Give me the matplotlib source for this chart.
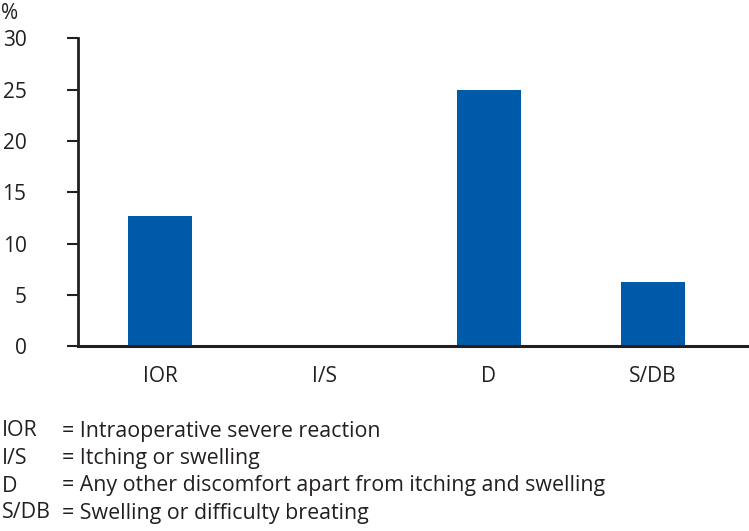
import numpy as np
import matplotlib.pyplot as plt

plt.rcParams['font.family'] = ['Open Sans', 'DejaVu Sans']

categories = ["IOR", "I/S", "D", "S/DB"]
values = [12.7, 0, 25, 6.25]
yticks = [0, 5, 10, 15, 20, 25, 30]
notes = [
    ("IOR", "= Intraoperative severe reaction"),
    ("I/S", "= Itching or swelling"),
    ("D", "= Any other discomfort apart from itching and swelling"),
    ("S/DB", "= Swelling or difficulty breating"),
]

bar_color = "#005aaa"
fs = 15
fs_notes = 15.4

fig = plt.figure(figsize=(7.49, 5.31), dpi=100)
ax = fig.add_axes([0.104, 0.348, 0.895, 0.580])

x = np.arange(len(categories))
ax.bar(x, values, width=0.39, color=bar_color)

ax.set_xlim(-0.5, 3.58)
ax.set_ylim(0, 30)
ax.set_yticks(yticks)
ax.set_xticks(x)
ax.set_xticklabels(categories)

for s in ["top", "right"]:
    ax.spines[s].set_visible(False)
ax.spines["left"].set_linewidth(2)
ax.spines["bottom"].set_linewidth(2.2)
ax.spines["left"].set_color("#231f20")
ax.spines["bottom"].set_color("#231f20")

ax.tick_params(axis="y", length=8, width=1.5, color="#231f20", pad=29,
               labelsize=fs, labelcolor="#231f20")
ax.tick_params(axis="x", length=0, pad=14, labelsize=fs, labelcolor="#231f20")

fig.text(0.002, 0.975, "%", fontsize=fs, color="#231f20", va="center", ha="left")

row_y = [431, 458.5, 486, 513]
for (abbr, desc), yy in zip(notes, row_y):
    fy = 1 - yy / 531
    fig.text(0.002, fy, abbr, fontsize=fs_notes, color="#231f20", va="center", ha="left")
    fig.text(62 / 749, fy, desc, fontsize=fs_notes, color="#231f20", va="center", ha="left")

fig.savefig("out.png", dpi=100)
